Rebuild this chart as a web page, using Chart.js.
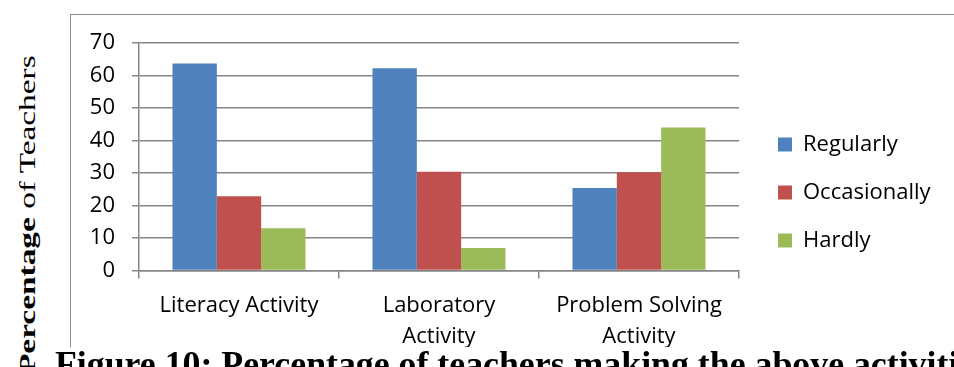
<!DOCTYPE html>
<html>
<head>
<meta charset="utf-8">
<script src="https://cdn.jsdelivr.net/npm/chart.js@4.4.0/dist/chart.umd.min.js"></script>
<style>
  html, body { margin: 0; padding: 0; background: #fff; width: 954px; height: 367px; overflow: hidden; position: relative; }
  #box { position: absolute; left: 70px; top: 14px; width: 884px; height: 332px; border-left: 1px solid #8c8c8c; border-top: 1px solid #8c8c8c; overflow: hidden; }
  #box canvas { display: block; }
  #ytitle { position: absolute; left: 16px; top: 374px; transform-origin: 0 0; transform: rotate(-90deg) scaleX(1.45);
            font-family: "Liberation Serif", serif; font-size: 23px; line-height: 23px; white-space: nowrap; color: #000; }
  #caption { position: absolute; left: 55px; top: 346px; font-family: "Liberation Serif", serif; font-weight: bold;
             font-size: 35.8px; line-height: 36px; white-space: nowrap; color: #000; }
</style>
</head>
<body>
<div id="box"><canvas id="chart" width="883" height="349"></canvas></div>
<div id="ytitle"><b>Percentage</b> of Teachers</div>
<div id="caption">Figure 10: Percentage of teachers making the above activities</div>
<script>
// activity groups and how often teachers do them (%)
const categories = [['Literacy Activity'], ['Laboratory', 'Activity'], ['Problem Solving', 'Activity']];
const seriesNames = ['Regularly', 'Occasionally', 'Hardly'];
const regularly = [63.7, 62.2, 25.4];
const occasionally = [22.8, 30.4, 30.2];
const hardly = [13.0, 6.9, 44.0];
const yTicks = [0, 10, 20, 30, 40, 50, 60, 70];

const COLORS = ['#4f81bd', '#c0504d', '#9bbb59'];
const GRID = '#868686';
const xTickFont = { family: 'Open Sans', size: 22, lineHeight: 1.4 };
const yTickFont = { family: 'Open Sans', size: 22, lineHeight: 0.9 };

// legend sits in a fixed-width column, nudged right/up from the plot
const legendSlot = {
    id: 'legendSlot',
    beforeInit: (chart) => {
        const legend = chart.legend;
        const fit = legend.fit;
        legend.fit = function () {
            fit.call(this);
            this.width = 215;
        };
    },
    afterLayout: (chart) => {
        const legend = chart.legend;
        legend.left += 13;
        legend.right += 13;
        legend.top -= 11;
        legend.bottom -= 11;
    }
};

const datasets = [regularly, occasionally, hardly].map((values, i) => ({
    label: seriesNames[i],
    data: values,
    backgroundColor: COLORS[i],
    borderWidth: 0,
    barPercentage: 1,
    categoryPercentage: 0.665
}));

new Chart(document.getElementById('chart').getContext('2d'), {
    type: 'bar',
    data: { labels: categories, datasets: datasets },
    options: {
        responsive: false,
        animation: false,
        layout: { padding: { left: 0, top: 28, right: 0, bottom: 0 } },
        scales: {
            x: {
                grid: { drawOnChartArea: false, tickLength: 8, color: GRID, lineWidth: 1.5 },
                border: { color: GRID, width: 1.5 },
                ticks: { font: xTickFont, color: '#000', padding: 12, maxRotation: 0, autoSkip: false }
            },
            y: {
                min: yTicks[0],
                max: yTicks[yTicks.length - 1],
                afterBuildTicks: (scale) => { scale.ticks = yTicks.map(v => ({ value: v })); },
                afterFit: (scale) => { scale.width = 68; },
                grid: { tickLength: 7, color: GRID, lineWidth: 1.5 },
                border: { color: GRID, width: 1.5 },
                ticks: { font: yTickFont, color: '#000', padding: 17, autoSkip: false }
            }
        },
        plugins: {
            legend: {
                position: 'right',
                labels: { boxWidth: 14, boxHeight: 14, padding: 26, color: '#000', font: { family: 'Open Sans', size: 22 } }
            },
            tooltip: { enabled: false }
        }
    },
    plugins: [legendSlot]
});
</script>
</body>
</html>
